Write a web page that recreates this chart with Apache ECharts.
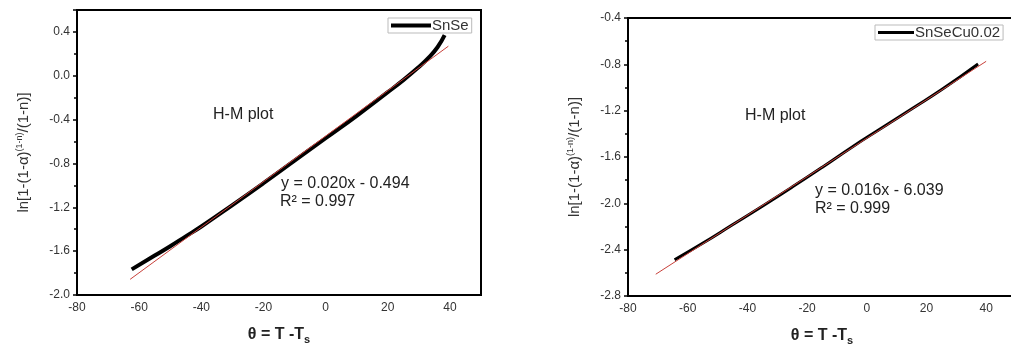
<!DOCTYPE html>
<html>
<head>
<meta charset="utf-8">
<style>
    html, body { margin: 0; padding: 0; background: #fff; }
    #chart { width: 1011px; height: 345px; }
</style>
</head>
<body>
<div id="chart"></div>
<script src="https://cdn.jsdelivr.net/npm/echarts@6/dist/echarts.min.js"></script>
<script>
    // SnSe 曲线 (θ, ln[...])
    const snseX = [-62.4, -55, -50, -45, -40, -30, -20, -10, 0, 10, 20, 25, 30, 33, 36, 38.3];
    const snseY = [-1.766, -1.64, -1.555, -1.465, -1.375, -1.18, -0.98, -0.775, -0.57, -0.365, -0.15, -0.04, 0.08, 0.16, 0.26, 0.37];
    // SnSe 拟合直线端点
    const snseFitX = [-62.9, 39.5];
    const snseFitY = [-1.857, 0.27];

    // SnSeCu0.02 曲线
    const cuX = [-64.4, -55, -45, -35, -25, -15, -5, 5, 15, 25, 37.3];
    const cuY = [-2.487, -2.345, -2.185, -2.025, -1.86, -1.69, -1.515, -1.35, -1.185, -1.02, -0.797];
    // SnSeCu0.02 拟合直线端点
    const cuFitX = [-70.7, 40];
    const cuFitY = [-2.612, -0.774];

    const xTicks = [-80, 50, 20];          // min, max, interval
    const snseYTicks = [-2.0, 0.6, 0.4];
    const cuYTicks = [-2.8, -0.4, 0.4];

    const zip = (xs, ys) => xs.map((x, i) => [x, ys[i]]);

    const font = 'Liberation Sans, Arial, sans-serif';
    const yName = '{n|ln[1-(1-α)}{s|(1-n)}{n|/(1-n)]}';
    const xName = '{n|θ = T -T}{s|s}';

    function xAxis(idx) {
        return {
            type: 'value', gridIndex: idx,
            min: xTicks[0], max: xTicks[1], interval: xTicks[2],
            axisLine: { onZero: false, lineStyle: { color: '#000', width: 2 } },
            axisTick: { show: false },
            splitLine: { show: false },
            axisLabel: { color: '#333', fontSize: 12, fontFamily: font, margin: 7, showMaxLabel: false },
            name: xName, nameLocation: 'middle', nameGap: 30,
            nameTextStyle: {
                rich: {
                    n: { fontSize: 16, fontWeight: 'bold', color: '#222', fontFamily: font },
                    s: { fontSize: 11, fontWeight: 'bold', color: '#222', fontFamily: font, padding: [9, 0, 0, 0] }
                }
            }
        };
    }

    function yAxis(idx, t, showMax) {
        return {
            type: 'value', gridIndex: idx,
            min: t[0], max: t[1], interval: t[2],
            axisLine: { onZero: false, lineStyle: { color: '#000', width: 2 } },
            axisTick: { show: true, length: 4, lineStyle: { color: '#000', width: 1.5 } },
            minorTick: { show: true, splitNumber: 2, length: 3, lineStyle: { color: '#000', width: 1.5 } },
            splitLine: { show: false },
            axisLabel: {
                color: '#333', fontSize: 12, fontFamily: font, margin: 7,
                showMaxLabel: showMax,
                formatter: v => v.toFixed(1)
            },
            name: yName, nameLocation: 'middle', nameGap: 44,
            nameTextStyle: {
                rich: {
                    n: { fontSize: 15, color: '#333', fontFamily: font },
                    s: { fontSize: 9, color: '#333', fontFamily: font, padding: [0, 0, 9, 0] }
                }
            }
        };
    }

    function legend(name, left, top, w, h) {
        return {
            data: [name], left: left, top: top,
            icon: 'rect', itemWidth: w, itemHeight: h, itemGap: 4,
            padding: [0, 3, 0, 3],
            borderColor: '#bbb', borderWidth: 1,
            textStyle: { fontSize: 15, color: '#333', fontFamily: font, padding: [0, 0, 0, -4] }
        };
    }

    function text(x, y, s, size) {
        return {
            type: 'text', left: x, top: y,
            style: { text: s, fontSize: size, fill: '#222', fontFamily: font }
        };
    }

    const chart = echarts.init(document.getElementById('chart'));
    chart.setOption({
        backgroundColor: '#fff',
        animation: false,
        grid: [
            { left: 77, top: 10, width: 404, height: 285, outerBoundsMode: 'none', show: true, borderColor: '#000', borderWidth: 2 },
            { left: 628, top: 18, width: 388, height: 278, outerBoundsMode: 'none', show: true, borderColor: '#000', borderWidth: 2 }
        ],
        xAxis: [xAxis(0), xAxis(1)],
        yAxis: [yAxis(0, snseYTicks, false), yAxis(1, cuYTicks, true)],
        legend: [
            legend('SnSe', 388, 18, 40, 4),
            legend('SnSeCu0.02', 875, 25, 36, 3)
        ],
        graphic: [
            text(213, 107, 'H-M plot', 16),
            text(281, 176, 'y = 0.020x - 0.494', 16),
            text(280, 194, 'R² = 0.997', 16),
            text(745, 108, 'H-M plot', 16),
            text(815, 183, 'y = 0.016x - 6.039', 16),
            text(815, 201, 'R² = 0.999', 16)
        ],
        series: [
            {
                name: 'SnSe', type: 'line', xAxisIndex: 0, yAxisIndex: 0,
                data: zip(snseX, snseY), showSymbol: false, smooth: true, z: 2,
                lineStyle: { color: '#000', width: 4 }, itemStyle: { color: '#000' }
            },
            {
                name: 'SnSe fit', type: 'line', xAxisIndex: 0, yAxisIndex: 0,
                data: zip(snseFitX, snseFitY), showSymbol: false, z: 3,
                lineStyle: { color: '#c8403a', width: 1 }
            },
            {
                name: 'SnSeCu0.02', type: 'line', xAxisIndex: 1, yAxisIndex: 1,
                data: zip(cuX, cuY), showSymbol: false, smooth: true, z: 2,
                lineStyle: { color: '#000', width: 3 }, itemStyle: { color: '#000' }
            },
            {
                name: 'SnSeCu0.02 fit', type: 'line', xAxisIndex: 1, yAxisIndex: 1,
                data: zip(cuFitX, cuFitY), showSymbol: false, z: 3,
                lineStyle: { color: '#c8403a', width: 1 }
            }
        ]
    });
</script>
</body>
</html>
